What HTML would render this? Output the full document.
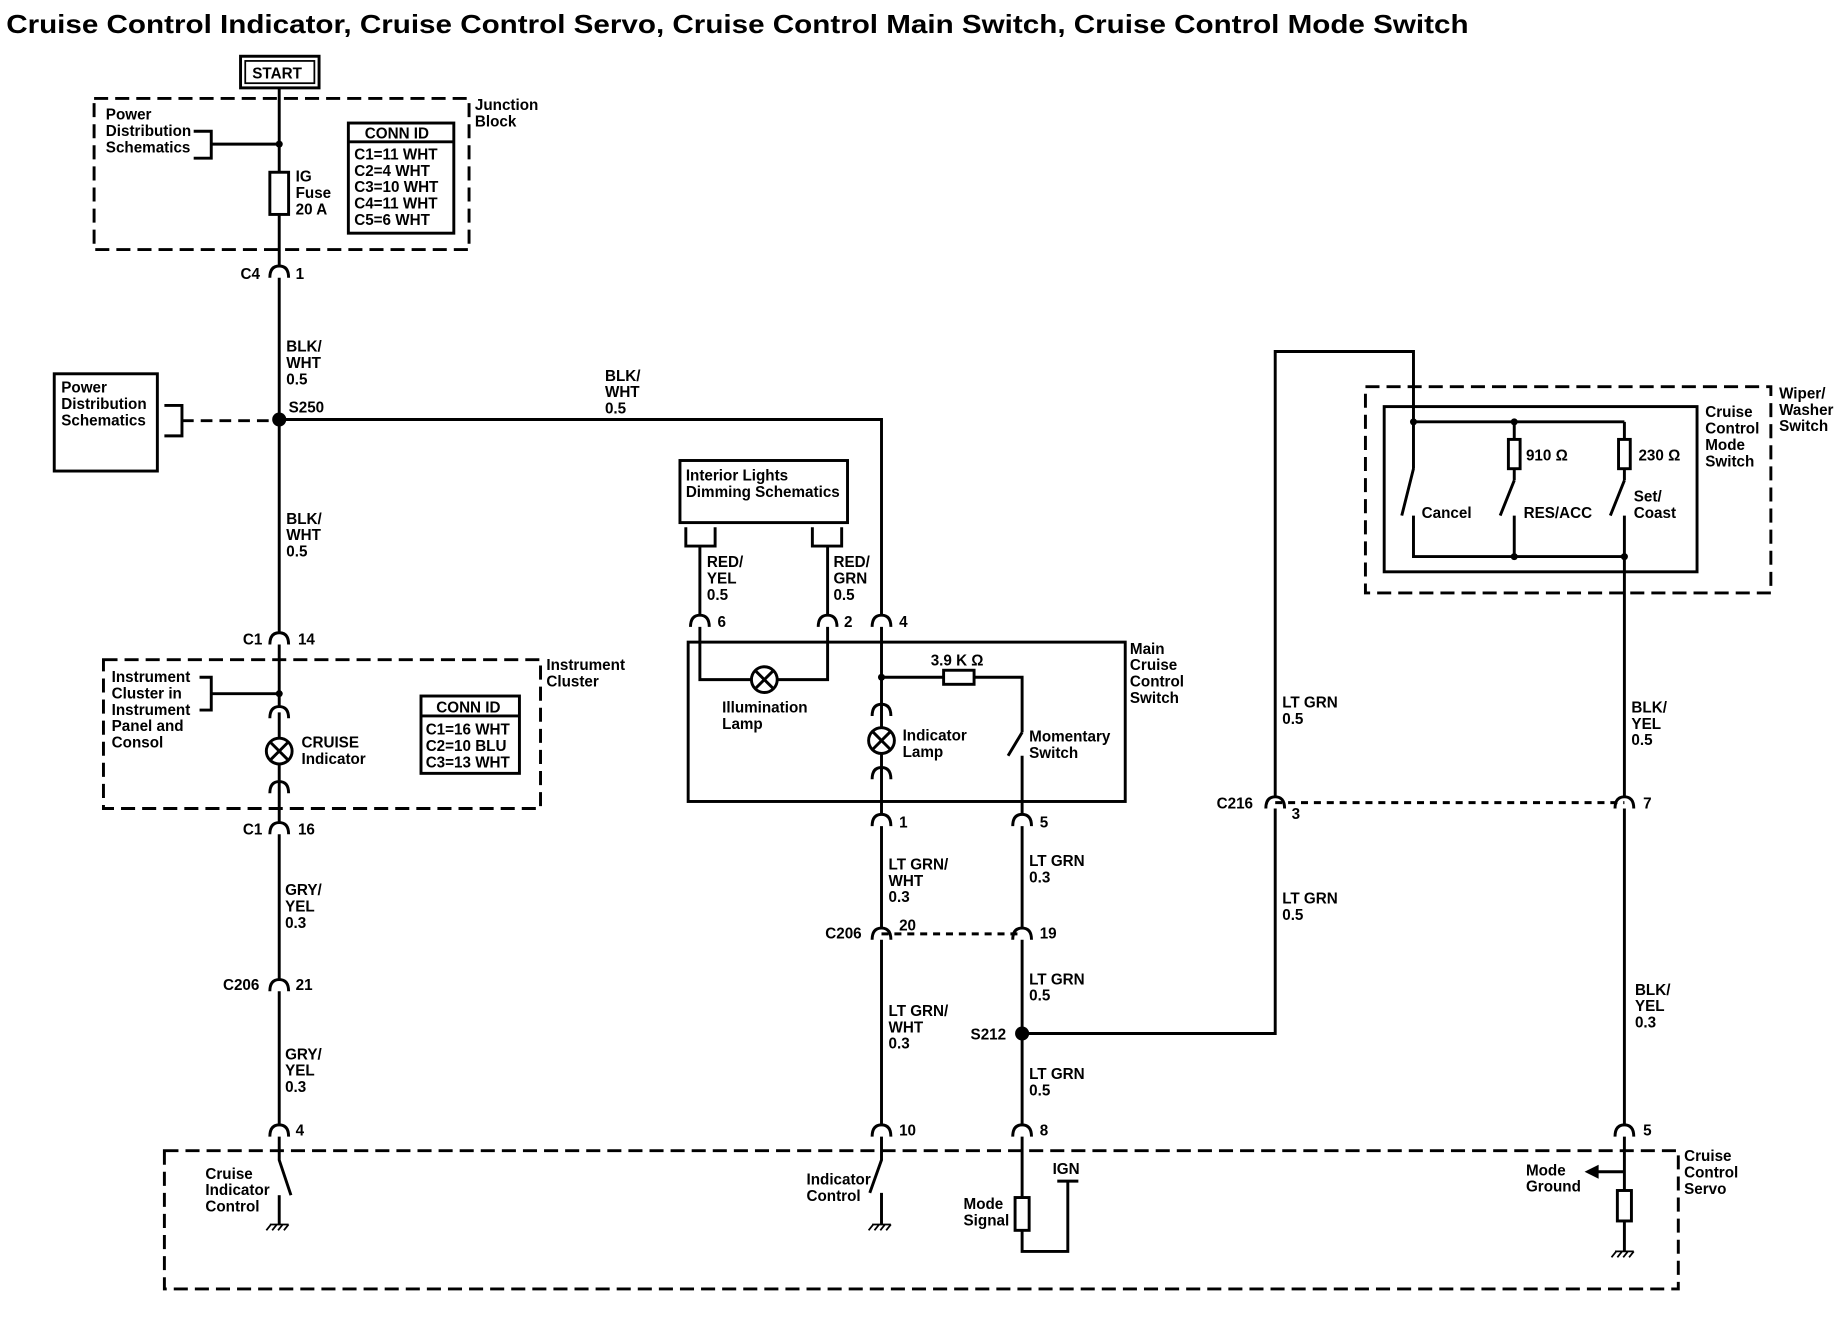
<!DOCTYPE html>
<html><head><meta charset="utf-8"><style>
html,body{margin:0;padding:0;background:#fff}
svg{display:block}
text{font-family:"Liberation Sans",Arial,sans-serif;font-size:13px;font-weight:bold;fill:#000}
</style></head><body>
<svg width="1838" height="1344" viewBox="0 0 1568 1147" xmlns="http://www.w3.org/2000/svg">
<defs>
<g id="cn"><path d="M-8,5 Q-8,-5 0,-5 Q8,-5 8,5" fill="none" stroke="#000" stroke-width="2.5"/></g>
<g id="lamp"><circle r="11" fill="#fff" stroke="#000" stroke-width="2.5"/><path d="M-7,-7L7,7M-7,7L7,-7" stroke="#000" stroke-width="2.5"/></g>
<g id="gnd"><path d="M-8,0H8M-7,0l-4,5M-2,0l-4,5M3,0l-4,5M8,0l-4,5" stroke="#000" stroke-width="1.5" fill="none"/></g>
</defs>
<text x="5" y="28" style="font-size:22px" textLength="1248" lengthAdjust="spacingAndGlyphs">Cruise Control Indicator, Cruise Control Servo, Cruise Control Main Switch, Cruise Control Mode Switch</text>
<g fill="none" stroke="#000" stroke-width="2.5">
<rect x="205" y="48" width="67" height="27"/><rect x="209" y="52" width="59" height="19" stroke-width="1.5"/>
<path d="M238,75V227M238,237V540M238,550V603M238,608V677M238,677V702M238,712V836M238,846V960M238,970V990l10,30"/>
<path d="M238,1020V1045"/>
<rect x="80" y="84" width="320" height="129" stroke-dasharray="12,6"/>
<path d="M165,112h15v23h-15M180,123H238"/>
<rect x="230" y="147" width="16" height="36" fill="#fff"/>
<rect x="297" y="105" width="90" height="94"/><path d="M297,121H387"/>
<rect x="46" y="319" width="88" height="83"/>
<path d="M140,346h15v26h-15"/>
<path d="M155,359H238" stroke-dasharray="10,6"/>
<path d="M238,358H752V525M752,535V695M752,705V792M752,802V960M752,970V990l-10,28M752,1018V1045"/>
<rect x="88" y="563" width="373" height="127" stroke-dasharray="12,6"/>
<path d="M170,578h10v28h-10M180,592H238"/>
<rect x="359" y="594" width="84" height="66"/><path d="M359,611H443"/>
<rect x="580" y="393" width="143" height="53"/>
<path d="M585,450v16h25v-16M693,450v16h25v-16M597,466V525M706,466V525"/>
<path d="M597,535V580H706V535"/>
<rect x="587" y="548" width="373" height="136"/>
<path d="M752,578H805M831,578H872V625M860,645l12,-20M872,645V695"/>
<rect x="805" y="572" width="26" height="12"/>
<path d="M872,705V792M872,802V960M872,970V1022M872,1050V1068H911V1008M902,1008H920"/>
<rect x="866" y="1022" width="12" height="28" fill="#fff"/>
<path d="M752,797H872M1088,685H1386" stroke-dasharray="6,5"/>
<path d="M872,882H1088V690M1088,680V300H1206V360"/>
<rect x="1165" y="330" width="346" height="176" stroke-dasharray="12,6"/>
<rect x="1181" y="347" width="267" height="141"/>
<path d="M1206,360H1386M1206,360V400M1196,440l10,-40M1206,440V475H1386M1292,360V375M1292,400V410M1280,440l12,-30M1292,440V475M1386,360V375M1386,400V410M1374,440l12,-30M1386,440V680M1386,690V960M1386,970V1016M1386,1042V1068"/>
<rect x="1287" y="375" width="10" height="25" fill="#fff"/><rect x="1381" y="375" width="10" height="25" fill="#fff"/>
<rect x="1380" y="1016" width="12" height="26" fill="#fff"/>
<path d="M1386,1000H1362"/>
<rect x="140" y="982" width="1292" height="118" stroke-dasharray="12,6"/>
</g>
<path d="M1352,1000l12,-6v12z" fill="#000"/>
<g fill="#000"><circle cx="238" cy="358" r="6"/><circle cx="872" cy="882" r="6"/><circle cx="238" cy="123" r="3"/><circle cx="238" cy="592" r="3"/><circle cx="752" cy="578" r="3"/><circle cx="1206" cy="360" r="3"/><circle cx="1292" cy="360" r="3"/><circle cx="1292" cy="475" r="3"/><circle cx="1386" cy="475" r="3"/></g>
<use href="#cn" x="238" y="232"/><use href="#cn" x="238" y="545"/><use href="#cn" x="238" y="608"/><use href="#cn" x="238" y="672"/><use href="#cn" x="238" y="707"/><use href="#cn" x="238" y="841"/><use href="#cn" x="238" y="965"/>
<use href="#cn" x="597" y="530"/><use href="#cn" x="706" y="530"/><use href="#cn" x="752" y="530"/>
<use href="#cn" x="752" y="606"/><use href="#cn" x="752" y="660"/>
<use href="#cn" x="752" y="700"/><use href="#cn" x="872" y="700"/><use href="#cn" x="752" y="797"/><use href="#cn" x="872" y="797"/>
<use href="#cn" x="752" y="965"/><use href="#cn" x="872" y="965"/><use href="#cn" x="1088" y="685"/><use href="#cn" x="1386" y="685"/><use href="#cn" x="1386" y="965"/>
<use href="#lamp" x="238" y="641"/><use href="#lamp" x="652" y="580"/><use href="#lamp" x="752" y="632"/>
<use href="#gnd" x="238" y="1045"/><use href="#gnd" x="752" y="1045"/><use href="#gnd" x="1386" y="1068"/>
<text x="215" y="67">START</text>
<text x="405" y="94">Junction</text><text x="405" y="108">Block</text>
<text x="90" y="102">Power</text><text x="90" y="116">Distribution</text><text x="90" y="130">Schematics</text>
<text x="252" y="155">IG</text><text x="252" y="169">Fuse</text><text x="252" y="183">20 A</text>
<text x="311" y="118">CONN ID</text><text x="302" y="136">C1=11 WHT</text><text x="302" y="150">C2=4 WHT</text><text x="302" y="164">C3=10 WHT</text><text x="302" y="178">C4=11 WHT</text><text x="302" y="192">C5=6 WHT</text>
<text x="205" y="238">C4</text><text x="252" y="238">1</text>
<text x="244" y="300">BLK/</text><text x="244" y="314">WHT</text><text x="244" y="328">0.5</text>
<text x="52" y="335">Power</text><text x="52" y="349">Distribution</text><text x="52" y="363">Schematics</text>
<text x="246" y="352">S250</text>
<text x="516" y="325">BLK/</text><text x="516" y="339">WHT</text><text x="516" y="353">0.5</text>
<text x="244" y="447">BLK/</text><text x="244" y="461">WHT</text><text x="244" y="475">0.5</text>
<text x="207" y="550">C1</text><text x="254" y="550">14</text>
<text x="466" y="572">Instrument</text><text x="466" y="586">Cluster</text>
<text x="95" y="582">Instrument</text><text x="95" y="596">Cluster in</text><text x="95" y="610">Instrument</text><text x="95" y="624">Panel and</text><text x="95" y="638">Consol</text>
<text x="257" y="638">CRUISE</text><text x="257" y="652">Indicator</text>
<text x="372" y="608">CONN ID</text><text x="363" y="627">C1=16 WHT</text><text x="363" y="641">C2=10 BLU</text><text x="363" y="655">C3=13 WHT</text>
<text x="207" y="712">C1</text><text x="254" y="712">16</text>
<text x="243" y="764">GRY/</text><text x="243" y="778">YEL</text><text x="243" y="792">0.3</text>
<text x="190" y="845">C206</text><text x="252" y="845">21</text>
<text x="243" y="904">GRY/</text><text x="243" y="918">YEL</text><text x="243" y="932">0.3</text>
<text x="252" y="969">4</text>
<text x="585" y="410">Interior Lights</text><text x="585" y="424">Dimming Schematics</text>
<text x="603" y="484">RED/</text><text x="603" y="498">YEL</text><text x="603" y="512">0.5</text>
<text x="711" y="484">RED/</text><text x="711" y="498">GRN</text><text x="711" y="512">0.5</text>
<text x="612" y="535">6</text><text x="720" y="535">2</text><text x="767" y="535">4</text>
<text x="964" y="558">Main</text><text x="964" y="572">Cruise</text><text x="964" y="586">Control</text><text x="964" y="600">Switch</text>
<text x="794" y="568">3.9 K Ω</text>
<text x="616" y="608">Illumination</text><text x="616" y="622">Lamp</text>
<text x="770" y="632">Indicator</text><text x="770" y="646">Lamp</text>
<text x="878" y="633">Momentary</text><text x="878" y="647">Switch</text>
<text x="767" y="706">1</text><text x="887" y="706">5</text>
<text x="758" y="742">LT GRN/</text><text x="758" y="756">WHT</text><text x="758" y="770">0.3</text>
<text x="878" y="739">LT GRN</text><text x="878" y="753">0.3</text>
<text x="704" y="801">C206</text><text x="767" y="794">20</text><text x="887" y="801">19</text>
<text x="878" y="840">LT GRN</text><text x="878" y="854">0.5</text>
<text x="758" y="867">LT GRN/</text><text x="758" y="881">WHT</text><text x="758" y="895">0.3</text>
<text x="828" y="887">S212</text>
<text x="878" y="921">LT GRN</text><text x="878" y="935">0.5</text>
<text x="767" y="969">10</text><text x="887" y="969">8</text>
<text x="1518" y="340">Wiper/</text><text x="1518" y="354">Washer</text><text x="1518" y="368">Switch</text>
<text x="1455" y="356">Cruise</text><text x="1455" y="370">Control</text><text x="1455" y="384">Mode</text><text x="1455" y="398">Switch</text>
<text x="1302" y="393">910 Ω</text><text x="1398" y="393">230 Ω</text>
<text x="1213" y="442">Cancel</text><text x="1300" y="442">RES/ACC</text><text x="1394" y="428">Set/</text><text x="1394" y="442">Coast</text>
<text x="1094" y="604">LT GRN</text><text x="1094" y="618">0.5</text>
<text x="1392" y="608">BLK/</text><text x="1392" y="622">YEL</text><text x="1392" y="636">0.5</text>
<text x="1038" y="690">C216</text><text x="1102" y="699">3</text><text x="1402" y="690">7</text>
<text x="1094" y="771">LT GRN</text><text x="1094" y="785">0.5</text>
<text x="1395" y="849">BLK/</text><text x="1395" y="863">YEL</text><text x="1395" y="877">0.3</text>
<text x="1402" y="969">5</text>
<text x="1437" y="991">Cruise</text><text x="1437" y="1005">Control</text><text x="1437" y="1019">Servo</text>
<text x="175" y="1006">Cruise</text><text x="175" y="1020">Indicator</text><text x="175" y="1034">Control</text>
<text x="688" y="1011">Indicator</text><text x="688" y="1025">Control</text>
<text x="898" y="1002">IGN</text>
<text x="822" y="1032">Mode</text><text x="822" y="1046">Signal</text>
<text x="1302" y="1003">Mode</text><text x="1302" y="1017">Ground</text>
</svg>
</body></html>
